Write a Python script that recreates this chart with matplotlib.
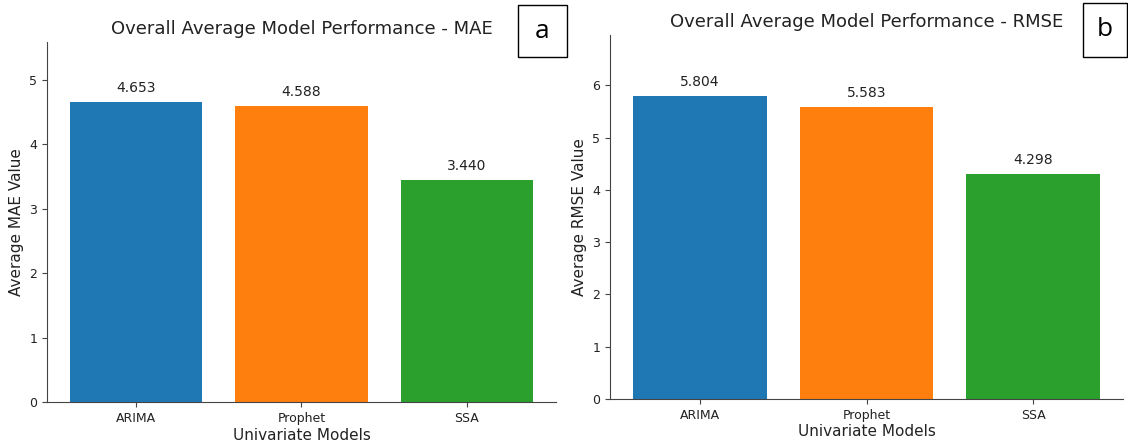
import matplotlib
matplotlib.use("Agg")
import matplotlib.pyplot as plt
from matplotlib.patches import Rectangle

models = ["ARIMA", "Prophet", "SSA"]
mae_values = [4.653, 4.588, 3.440]
rmse_values = [5.804, 5.583, 4.298]
colors = ["#1f77b4", "#ff7f0e", "#2ca02c"]

plt.rcParams['font.family'] = ['DejaVu Sans']
txt = "#222222"

fig = plt.figure(figsize=(11.28, 4.45), dpi=100)
ax1 = fig.add_axes([47/1128, 43/445, (556-47)/1128, (402-42)/445])
ax2 = fig.add_axes([610/1128, 46/445, (1123-610)/1128, (399-35)/445])

def panel(ax, vals, metric):
    x = range(len(models))
    ax.bar(x, vals, color=colors, width=0.8)
    for xi, v in zip(x, vals):
        ax.annotate(f"{v:.3f}", (xi, v), xytext=(0, 5), textcoords="offset points",
                    ha="center", va="bottom", fontsize=10, color=txt)
    ax.set_xticks(list(x))
    ax.set_xticklabels(models, fontsize=9, color=txt)
    ax.set_ylim(0, max(vals) * 1.2)
    ax.tick_params(axis="y", labelsize=9, labelcolor=txt, colors="#444444")
    ax.tick_params(axis="x", colors="#444444", labelcolor=txt)
    ax.set_xlabel("Univariate Models", fontsize=11, color=txt, labelpad=2)
    ax.set_ylabel(f"Average {metric} Value", fontsize=11, color=txt)
    ax.set_title(f"Overall Average Model Performance - {metric}", fontsize=13, color=txt, pad=6)
    ax.spines["top"].set_visible(False)
    ax.spines["right"].set_visible(False)
    for s in ("left", "bottom"):
        ax.spines[s].set_color("#444444")

panel(ax1, mae_values, "MAE")
panel(ax2, rmse_values, "RMSE")

def label_box(x0, y0, x1, y1, letter):
    W, H = 1128, 445
    r = Rectangle((x0/W, 1 - y1/H), (x1-x0)/W, (y1-y0)/H, transform=fig.transFigure,
                  fill=False, edgecolor="black", linewidth=1.0)
    fig.add_artist(r)
    fig.text((x0+x1)/2/W, 1 - (y0+y1)/2/H, letter, ha="center", va="center",
             fontsize=19, family=["Open Sans", "DejaVu Sans"], color="black")

label_box(518, 5, 567, 57, "a")
label_box(1083, 3, 1127, 57, "b")

fig.savefig("out.png", dpi=100, facecolor="white")
